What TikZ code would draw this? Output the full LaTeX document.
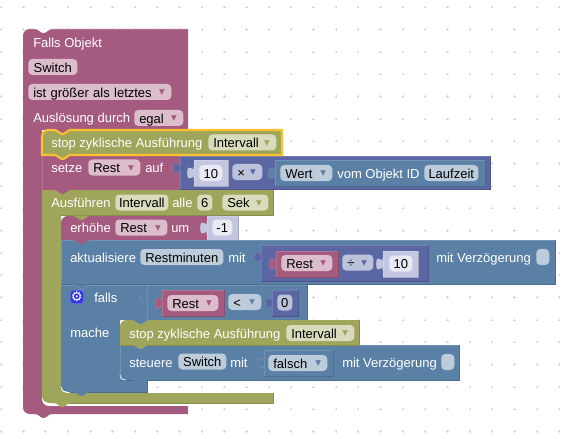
\documentclass[tikz,border=0pt]{standalone}
\usepackage{xcolor}
\usepackage{fontspec}
\setmainfont{Liberation Sans}
\newfontfamily\symbolFont{DejaVu Sans}
\definecolor{blockPurple}{HTML}{A55B80}
\definecolor{blockOlive}{HTML}{9FA55B}
\definecolor{blockBlue}{HTML}{5B80A5}
\definecolor{blockIndigo}{HTML}{5B67A5}
\definecolor{blockShadow}{HTML}{C3C6E0}
\definecolor{fieldP}{HTML}{DBBDCC}
\definecolor{fieldO}{HTML}{D9DBBD}
\definecolor{fieldB}{HTML}{BDCCDB}
\definecolor{fieldI}{HTML}{BDC2DB}
\definecolor{fieldS}{HTML}{E8E9F3}
\definecolor{selectYellow}{HTML}{FBC02D}
\definecolor{gearBlue}{HTML}{2F35E0}
\usepackage{tikz}
\usetikzlibrary{positioning}
\newcommand{\dropArrow}[1]{\hfill\raisebox{1.2pt}{\symbolFont\fontsize{8.5pt}{8.5pt}\selectfont\textcolor{#1}{▾}}\hspace*{1pt}}
\newcommand{\blockBox}[5]{%
    \fill[#5] (#1,#2) rectangle (#3,#4);
    \draw[#5!85!white, line width=0.5pt] (#1,#4) |- (#3,#2);
    \draw[#5!85!black, line width=0.5pt] (#3,#2) |- (#1,#4);
}
\newcommand{\puzzleTab}[3]{%
    \filldraw[fill=#3, draw=#3!85!white, line width=0.4pt, shift={(#1,#2)}]
        (0,0) .. controls (0,8) and (-6.4,-6.4) .. (-6.4,6)
        .. controls (-6.4,18.4) and (0,4) .. (0,12);
}
\newcommand{\blockTab}[3]{%
    \fill[#3, shift={(#1,#2)}] (0,-0.5) -- (0,0) .. controls (4,0) and (5,4) .. (8.5,4)
        .. controls (12,4) and (13,0) .. (17,0) -- (17,-0.5) -- cycle;
}

\begin{document}
\begin{tikzpicture}[
    x=0.75pt, y=-0.75pt,
    every node/.style={font=\fontsize{9.75pt}{11pt}\selectfont},
    gridMark/.style={draw=black!16, line width=0.35pt},
    labelText/.style={
        anchor=west, text=white, inner sep=0pt,
        text height=8pt, text depth=0.5pt
    },
    fieldBase/.style={
        anchor=west, rectangle, rounded corners=3pt, text=black,
        inner ysep=1.6pt, text height=8.4pt, text depth=0.4pt
    },
    plainWide/.style={fieldBase, inner xsep=0pt, minimum width=#1*0.75pt},
    dropWide/.style={fieldBase, inner xsep=3.75pt, align=left, text width=(#1-10)*0.75pt},
    glowLine/.style={draw=white, line width=0.5pt},
    selectLine/.style={draw=selectYellow, line width=1.6pt}
]

    % Workspace
    \fill[white] (0,0) rectangle (573,438);
    \useasboundingbox (0,0) rectangle (573,438);
    \foreach \gx in {0,...,25}{
        \foreach \gy in {0,...,19}{
            \draw[gridMark] ({1+22.33*\gx-1.2},{7.3+22.33*\gy}) -- ++(2.4,0)
                ({1+22.33*\gx},{7.3+22.33*\gy-1.2}) -- ++(0,2.4);
        }
    }

    % Hat block
    \fill[blockPurple, rounded corners=5pt] (188,29) [sharp corners] -- (188,130) -- (42,130)
        [rounded corners=5pt] -- (42,406) [sharp corners] -- (188,406) -- (188,414)
        [rounded corners=5pt] -- (23,414) -- (23,29) [sharp corners] -- cycle;
    \draw[blockPurple!85!white, line width=0.5pt] (31,29) -- (188,29);
    \blockTab{35}{29}{white}
    \blockTab{35}{414}{blockPurple}

    % Setze
    \blockBox{42}{155}{180}{190}{blockPurple}
    \blockBox{180}{156}{490}{189}{blockIndigo}
    \puzzleTab{180}{162}{blockIndigo}
    \blockBox{194}{160}{228}{186}{blockShadow}
    \puzzleTab{194}{167}{blockShadow}
    \blockBox{275}{160}{485}{186}{blockBlue}
    \puzzleTab{275}{167}{blockBlue}

    % Ausfuehren
    \fill[blockOlive] (42,190) -- (273,190) -- (273,215) -- (61,215)
        [rounded corners=5pt] -- (61,393) [sharp corners] -- (273,393) -- (273,403)
        [rounded corners=5pt] -- (42,403) [sharp corners] -- cycle;
    \draw[blockOlive!85!black, line width=0.5pt] (273,190) -- (273,215) -- (61,215)
        (273,393) -- (273,403) -- (60,403);
    \draw[glowLine] (42,398) .. controls (42,401) and (44,403) .. (48,403);

    % Erhoehe
    \fill[blockPurple, rounded corners=5pt] (61,240) -- (61,216) [sharp corners] -- (207,216) -- (207,240) -- cycle;
    \blockBox{207}{216}{238}{240}{blockShadow}
    \puzzleTab{207}{222}{blockShadow}

    % Aktualisiere
    \blockBox{61}{240}{555}{284}{blockBlue}
    \blockBox{261}{245}{428}{281}{blockIndigo}
    \puzzleTab{261}{251}{blockIndigo}
    \blockBox{276}{251}{338}{277}{blockPurple}
    \puzzleTab{276}{258}{blockPurple}
    \blockBox{383}{251}{418}{277}{blockShadow}
    \puzzleTab{383}{258}{blockShadow}

    % Falls
    \fill[blockBlue] (61,285) -- (307,285) -- (307,320) -- (120,320)
        [rounded corners=5pt] -- (120,380) [sharp corners] -- (147,380) -- (147,392)
        [rounded corners=5pt] -- (61,392) [sharp corners] -- cycle;
    \draw[blockBlue!85!white, line width=0.5pt] (61,285) -- (307,285) (147,285) -- (147,320);
    \draw[blockBlue!85!black, line width=0.5pt] (307,285) -- (307,320) (147,380) -- (147,392) -- (70,392);
    \draw[glowLine] (61,387) .. controls (61,390) and (63,392) .. (67,392);
    \puzzleTab{147}{291}{blockBlue}
    \blockBox{162}{290}{224}{316}{blockPurple}
    \puzzleTab{162}{297}{blockPurple}
    \blockBox{272}{290}{298}{316}{blockIndigo}
    \puzzleTab{272}{297}{blockIndigo}

    % Steuere
    \blockBox{120}{345}{459}{380}{blockBlue}
    \draw[glowLine] (120,375) .. controls (120,378) and (122,380) .. (126,380);
    \blockBox{264}{350}{333}{376}{blockBlue}
    \puzzleTab{264}{357}{blockBlue}

    % Stop blocks
    \fill[blockOlive, rounded corners=5pt] (120,345) -- (120,320) [sharp corners] -- (359,320) -- (359,345) -- cycle;
    \draw[blockOlive!85!black, line width=0.5pt] (359,320) -- (359,345) -- (120,345);
    \fill[blockOlive, rounded corners=5pt] (42,155) -- (42,130) [sharp corners] -- (282,130) -- (282,155) -- cycle;

    % Tabs between blocks
    \blockTab{54}{130}{blockPurple}
    \blockTab{54}{155}{blockOlive}
    \draw[selectLine, rounded corners=5pt] (42,155) -- (42,130) [sharp corners] -- (54,130)
        .. controls (58,130) and (59,134) .. (62.5,134) .. controls (66,134) and (67,130) .. (71,130)
        -- (282,130) -- (282,155) -- (71,155)
        .. controls (67,155) and (66,159) .. (62.5,159) .. controls (59,159) and (58,155) .. (54,155) -- cycle;
    \blockTab{54}{190}{blockPurple}
    \blockTab{73}{216}{blockOlive}
    \blockTab{73}{240}{blockPurple}
    \blockTab{73}{285}{blockBlue}
    \draw[blockBlue!85!white, line width=0.5pt] (73,285) .. controls (77,285) and (78,289) .. (81.5,289)
        .. controls (85,289) and (86,285) .. (90,285);
    \blockTab{132}{320}{blockBlue}
    \blockTab{132}{345}{blockOlive}
    \blockTab{132}{380}{blockBlue}
    \blockTab{73}{392}{blockBlue}
    \blockTab{54}{403}{blockOlive}

    % Nodes
    \node[labelText] (hatLabel) at (33,42.5) {Falls Objekt};
    \node[plainWide=49, fill=fieldP] (hatSwitch) at (28,67) {Switch};
    \node[dropWide=143, fill=fieldP] (hatCompare) at (28,92) {ist größer als letztes\dropArrow{blockPurple}};
    \node[labelText] (hatTrigger) at (33,117.5) {Auslösung durch};
    \node[dropWide=49, fill=fieldP] (hatEgal) at (134,118) {egal\dropArrow{blockPurple}};

    \node[labelText] (stopLabel) at (51,142.5) {stop zyklische Ausführung};
    \node[dropWide=68, fill=fieldO] (stopField) at (208,142.5) {Intervall\dropArrow{blockOlive}};

    \node[labelText] (setzeLabel) at (51,167.5) {setze};
    \node[dropWide=52, fill=fieldP] (setzeRest) at (88,167.5) {Rest\dropArrow{blockPurple}};
    \node[labelText] (setzeAuf) at (145,167.5) {auf};
    \node[plainWide=23, fill=fieldS] (setzeTen) at (199,173) {10};
    \node[dropWide=30, fill=fieldI] (setzeTimes) at (232,172) {×\dropArrow{blockIndigo}};
    \node[dropWide=52, fill=fieldB] (wertField) at (280,173) {Wert\dropArrow{blockBlue}};
    \node[labelText] (wertLabel) at (337,173) {vom Objekt ID};
    \node[plainWide=54, fill=fieldB] (wertId) at (424,173) {Laufzeit};

    \node[labelText] (ausLabel) at (51,202.5) {Ausführen};
    \node[plainWide=53, fill=fieldO] (ausName) at (115,202.5) {Intervall};
    \node[labelText] (ausAlle) at (172,202.5) {alle};
    \node[plainWide=15, fill=fieldO] (ausSix) at (197,202.5) {6};
    \node[dropWide=46, fill=fieldO] (ausSek) at (222,202.5) {Sek\dropArrow{blockOlive}};

    \node[labelText] (erhLabel) at (70,227.5) {erhöhe};
    \node[dropWide=52, fill=fieldP] (erhRest) at (115,227.5) {Rest\dropArrow{blockPurple}};
    \node[labelText] (erhUm) at (171,227.5) {um};
    \node[plainWide=20, fill=fieldS] (erhStep) at (212,227.5) {-1};

    \node[labelText] (aktLabel) at (70,257.5) {aktualisiere};
    \node[plainWide=83, fill=fieldB] (aktName) at (140,257) {Restminuten};
    \node[labelText] (aktMit) at (228,257.5) {mit};
    \node[dropWide=51, fill=fieldP] (aktRest) at (281,263) {Rest\dropArrow{blockPurple}};
    \node[dropWide=31, fill=fieldI] (aktDiv) at (342,262.5) {÷\dropArrow{blockIndigo}};
    \node[plainWide=23, fill=fieldS] (aktTen) at (389,263.5) {10};
    \node[labelText] (aktDelay) at (436,257.5) {mit Verzögerung};
    \node[plainWide=13, fill=fieldB] (aktCheck) at (536,257) {};

    \node[anchor=west, rectangle, rounded corners=2.5pt, fill=gearBlue, draw=gearBlue!70!white,
        minimum size=10pt, inner sep=0pt, text=white] (fallsGear) at (70,297)
        {\symbolFont\fontsize{10pt}{10pt}\selectfont ⚙};
    \node[labelText] (fallsLabel) at (94,297.5) {falls};
    \node[dropWide=51, fill=fieldP] (fallsRest) at (167,303) {Rest\dropArrow{blockPurple}};
    \node[dropWide=33, fill=fieldB] (fallsLess) at (228,302) {<\dropArrow{blockBlue}};
    \node[plainWide=15, fill=fieldI] (fallsZero) at (277,302.5) {0};
    \node[labelText] (macheLabel) at (70,332.5) {mache};

    \node[labelText] (stopInner) at (129,333) {stop zyklische Ausführung};
    \node[dropWide=68, fill=fieldO] (stopInnerField) at (286,333) {Intervall\dropArrow{blockOlive}};

    \node[labelText] (steuLabel) at (129,362) {steuere};
    \node[plainWide=48, fill=fieldB] (steuName) at (178,361.5) {Switch};
    \node[labelText] (steuMit) at (230,362) {mit};
    \node[dropWide=59, fill=fieldB] (steuFalse) at (268,363) {falsch\dropArrow{blockBlue}};
    \node[labelText] (steuDelay) at (342,362) {mit Verzögerung};
    \node[plainWide=13, fill=fieldB] (steuCheck) at (441,362) {};

\end{tikzpicture}
\end{document}
